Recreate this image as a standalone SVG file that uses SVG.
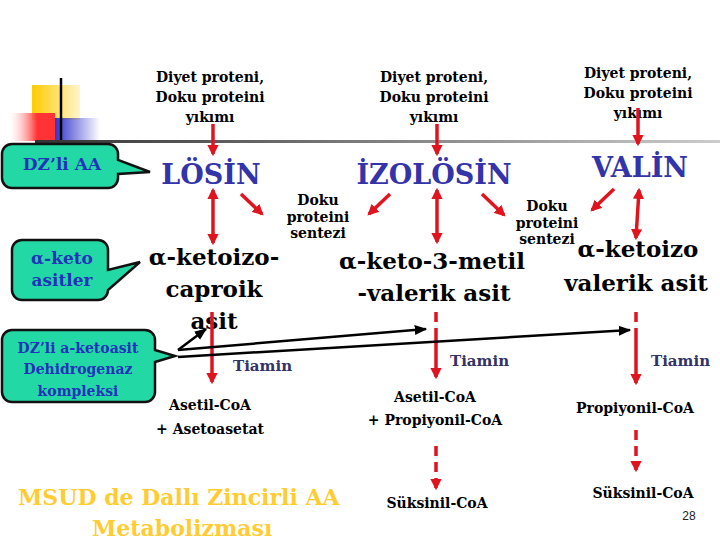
<svg xmlns="http://www.w3.org/2000/svg" width="720" height="540" viewBox="0 0 720 540">
<defs>
<linearGradient id="bar" x1="0" x2="1"><stop offset="0" stop-color="#333"/><stop offset="1" stop-color="#ccc"/></linearGradient>
<linearGradient id="red" x1="0" x2="1"><stop offset="0" stop-color="#fff" stop-opacity="0.3"/><stop offset="0.6" stop-color="#f33"/><stop offset="1" stop-color="#f33"/></linearGradient>
<linearGradient id="blue" x1="0" x2="1"><stop offset="0" stop-color="#33c"/><stop offset="1" stop-color="#33c" stop-opacity="0"/></linearGradient>
<linearGradient id="yel" x1="0" x2="1"><stop offset="0" stop-color="#fc0"/><stop offset="1" stop-color="#fc0" stop-opacity="0.2"/></linearGradient>
<marker id="ra" viewBox="0 0 10 10" refX="8" refY="5" markerWidth="3.2" markerHeight="3.2" orient="auto-start-reverse"><path d="M0,0L10,5L0,10z" fill="#e0141e"/></marker>
<marker id="ba" viewBox="0 0 10 10" refX="9" refY="5" markerWidth="5" markerHeight="5" orient="auto"><path d="M0,1L10,5L0,9z" fill="#000"/></marker>
<style>
text{font-family:"DejaVu Serif","Liberation Serif",serif}
.t{font-weight:bold;fill:#000}
.s{font-size:14px}
.big{font-size:23px}
.ttl{font-size:27px;fill:#3333aa}
.tia{font-size:15px;fill:#333366}
.co{fill:#22d9a5;stroke:#111;stroke-width:2.5}
.ct{font-weight:bold;fill:#2233bb}
.r{stroke:#e0141e;stroke-width:3.5;fill:none}
.rd{stroke:#e0141e;stroke-width:3.5;fill:none;stroke-dasharray:10 6}
.b{stroke:#000;stroke-width:2.5;fill:none}
</style>
</defs>
<g id="decor">
<rect x="32" y="85" width="48" height="35" fill="url(#yel)"/>
<rect x="55" y="118" width="45" height="24" fill="url(#blue)"/>
<rect x="10" y="113" width="45" height="28" fill="url(#red)"/>
<line x1="61" y1="78" x2="61" y2="142" stroke="#000" stroke-width="2.5"/>
<rect x="35" y="140" width="685" height="3" fill="url(#bar)"/>
</g>
<g id="headers" class="t s" text-anchor="middle">
<text x="210" y="82">Diyet proteni,</text><text x="210" y="102">Doku proteini</text><text x="210" y="122">yıkımı</text>
<text x="434" y="82">Diyet proteni,</text><text x="434" y="102">Doku proteini</text><text x="434" y="122">yıkımı</text>
<text x="638" y="78">Diyet proteni,</text><text x="638" y="98">Doku proteini</text><text x="638" y="118">yıkımı</text>
</g>
<g id="losin"><text class="t ttl" x="211" y="184" text-anchor="middle">LÖSİN</text></g>
<g id="izolosin"><text class="t ttl" x="434" y="184" text-anchor="middle">İZOLÖSİN</text></g>
<g id="valin"><text class="t ttl" x="640" y="177" text-anchor="middle">VALİN</text></g>
<g id="doku1" class="t s" text-anchor="middle"><text x="318" y="205">Doku</text><text x="318" y="222">proteini</text><text x="318" y="238">sentezi</text></g>
<g id="doku2" class="t s" text-anchor="middle"><text x="547" y="211">Doku</text><text x="547" y="228">proteini</text><text x="547" y="244">sentezi</text></g>
<g id="keto1" class="t big" text-anchor="middle"><text x="214" y="265">α-ketoizo-</text><text x="214" y="297">caproik</text><text x="214" y="329">asit</text></g>
<g id="keto2" class="t big" text-anchor="middle"><text x="432" y="269">α-keto-3-metil</text><text x="434" y="301">-valerik asit</text></g>
<g id="keto3" class="t big" text-anchor="middle"><text x="638" y="257">α-ketoizo</text><text x="636" y="291">valerik asit</text></g>
<g id="tiamin" class="t tia"><text x="233" y="371">Tiamin</text><text x="450" y="366">Tiamin</text><text x="651" y="366">Tiamin</text></g>
<g id="prod1" class="t s" text-anchor="middle"><text x="210" y="410">Asetil-CoA</text><text x="210" y="434">+ Asetoasetat</text></g>
<g id="prod2" class="t s" text-anchor="middle"><text x="435" y="402">Asetil-CoA</text><text x="435" y="425">+ Propiyonil-CoA</text></g>
<g id="prod3" class="t s" text-anchor="middle"><text x="635" y="413">Propiyonil-CoA</text></g>
<g id="suk2" class="t s" text-anchor="middle"><text x="437" y="508">Süksinil-CoA</text></g>
<g id="suk3" class="t s" text-anchor="middle"><text x="643" y="498">Süksinil-CoA</text></g>
<g id="callout1"><path class="co" d="M12,144h96a10,10 0 0 1 10,10v6l32,12l-32,2v4a10,10 0 0 1 -10,10h-96a10,10 0 0 1 -10,-10v-24a10,10 0 0 1 10,-10z"/><text class="ct" x="62" y="170" font-size="17" text-anchor="middle">DZ’li AA</text></g>
<g id="callout2"><path class="co" d="M22,240h76a10,10 0 0 1 10,10v20l32,-8l-32,28a10,10 0 0 1 -10,10h-76a10,10 0 0 1 -10,-10v-40a10,10 0 0 1 10,-10z"/><text class="ct" x="62" y="264" font-size="17" text-anchor="middle">α-keto</text><text class="ct" x="62" y="286" font-size="17" text-anchor="middle">asitler</text></g>
<g id="callout3"><path class="co" d="M12,330h133a10,10 0 0 1 10,10v10l20,6l-20,6v30a10,10 0 0 1 -10,10h-133a10,10 0 0 1 -10,-10v-52a10,10 0 0 1 10,-10z"/><text class="ct" x="78" y="353" font-size="14" text-anchor="middle">DZ’li a-ketoasit</text><text class="ct" x="78" y="374" font-size="14" text-anchor="middle">Dehidrogenaz</text><text class="ct" x="78" y="396" font-size="14" text-anchor="middle">kompleksi</text></g>
<g id="title" font-size="22" font-weight="bold" fill="#ffcc33"><text x="18" y="505">MSUD de Dallı Zincirli AA</text><text x="92" y="536">Metabolizması</text></g>
<text x="689" y="520" style="font-family:'Liberation Sans',sans-serif" font-size="12" fill="#222" text-anchor="middle">28</text>
<g id="connectors">
<line class="r" x1="213" y1="124" x2="213" y2="154" marker-end="url(#ra)"/>
<line class="r" x1="437" y1="124" x2="437" y2="154" marker-end="url(#ra)"/>
<line class="r" x1="638" y1="108" x2="638" y2="144" marker-end="url(#ra)"/>
<line class="r" x1="213" y1="190" x2="213" y2="243" marker-start="url(#ra)" marker-end="url(#ra)"/>
<line class="r" x1="437" y1="190" x2="437" y2="242" marker-start="url(#ra)" marker-end="url(#ra)"/>
<line class="r" x1="639" y1="190" x2="636" y2="238" marker-start="url(#ra)" marker-end="url(#ra)"/>
<line class="r" x1="241" y1="194" x2="262" y2="214" marker-end="url(#ra)"/>
<line class="r" x1="390" y1="194" x2="369" y2="214" marker-end="url(#ra)"/>
<line class="r" x1="482" y1="194" x2="504" y2="215" marker-end="url(#ra)"/>
<line class="r" x1="614" y1="189" x2="592" y2="210" marker-end="url(#ra)"/>
<line class="r" x1="212" y1="312" x2="212" y2="382" stroke-width="3" marker-end="url(#ra)"/>
<line class="rd" x1="436" y1="312" x2="436" y2="330"/>
<line class="r" x1="436" y1="330" x2="436" y2="377" marker-end="url(#ra)"/>
<line class="rd" x1="636" y1="312" x2="636" y2="330"/>
<line class="r" x1="636" y1="330" x2="636" y2="383" marker-end="url(#ra)"/>
<line class="rd" x1="436" y1="446" x2="436" y2="488" marker-end="url(#ra)"/>
<line class="rd" x1="636" y1="430" x2="636" y2="470" marker-end="url(#ra)"/>
<line class="b" x1="178" y1="350" x2="206" y2="329" marker-end="url(#ba)"/>
<line class="b" x1="178" y1="350" x2="426" y2="329" marker-end="url(#ba)"/>
<line class="b" x1="178" y1="357" x2="630" y2="330" marker-end="url(#ba)"/>
</g>
</svg>
